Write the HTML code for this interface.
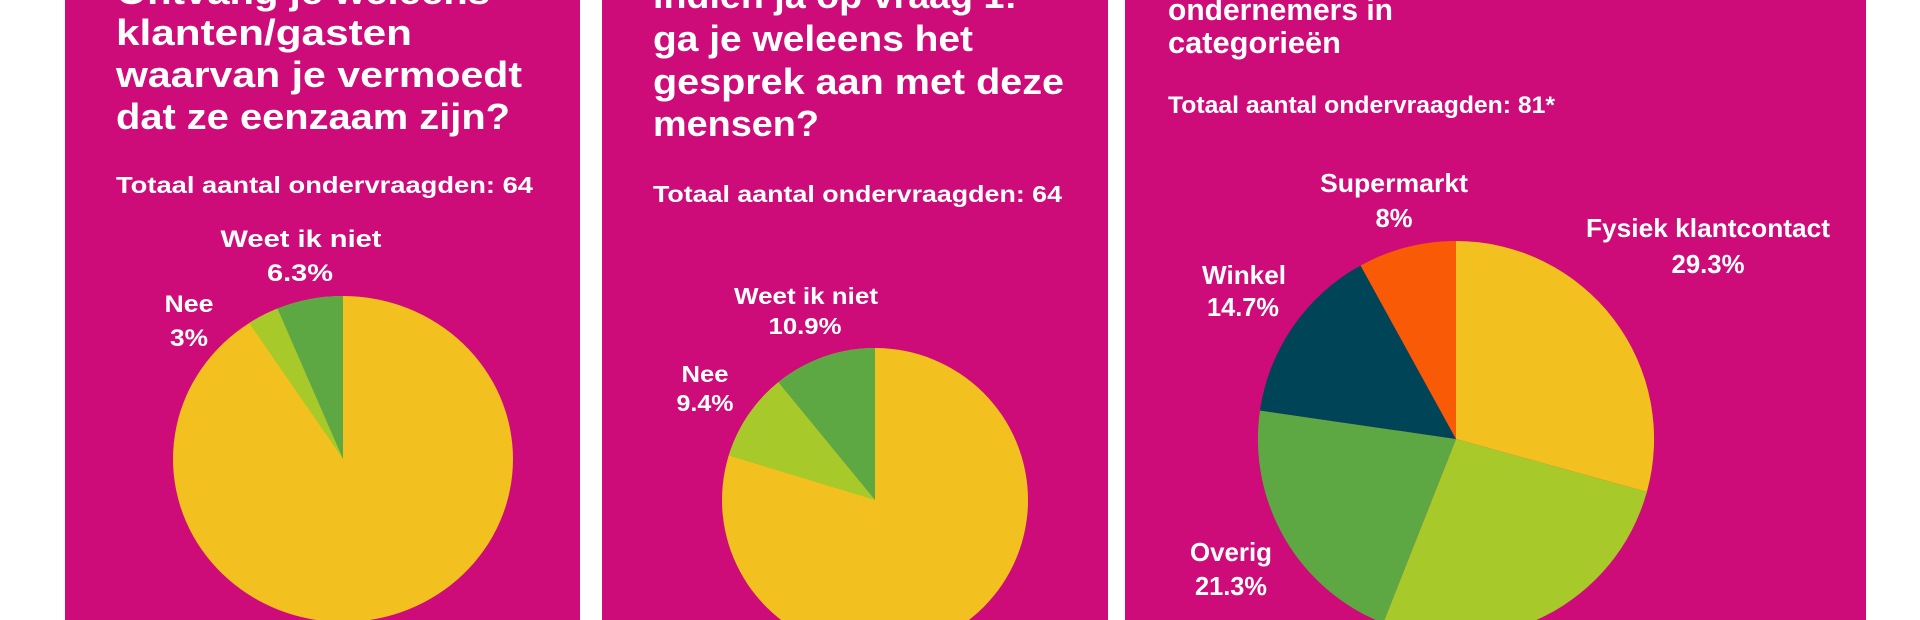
<!DOCTYPE html>
<html><head><meta charset="utf-8"><style>
html,body{margin:0;padding:0;background:#fff;width:1920px;height:620px;overflow:hidden}
svg{display:block;overflow:hidden}
text{fill:#fff;font-family:"Liberation Sans",sans-serif;font-weight:bold}
</style></head><body>
<svg width="1920" height="620" viewBox="0 0 1920 620" xmlns="http://www.w3.org/2000/svg">
<defs><clipPath id="c"><rect x="0" y="0" width="1920" height="620"/></clipPath></defs>
<g clip-path="url(#c)">
<rect x="0" y="0" width="1920" height="620" fill="#fff"/>
<rect x="65" y="0" width="515" height="620" fill="#CD0B79"/>
<rect x="602" y="0" width="506" height="620" fill="#CD0B79"/>
<rect x="1125" y="0" width="741" height="620" fill="#CD0B79"/>

<!-- Panel 1 -->
<g font-size="36">
<text x="116" y="4" textLength="374" lengthAdjust="spacingAndGlyphs">Ontvang je weleens</text>
<text x="116" y="45" textLength="296" lengthAdjust="spacingAndGlyphs">klanten/gasten</text>
<text x="116" y="87" textLength="406" lengthAdjust="spacingAndGlyphs">waarvan je vermoedt</text>
<text x="116" y="129" textLength="394" lengthAdjust="spacingAndGlyphs">dat ze eenzaam zijn?</text>
</g>
<text x="116" y="193" font-size="23" textLength="417" lengthAdjust="spacingAndGlyphs">Totaal aantal ondervraagden: 64</text>
<g transform="translate(343,459) scale(170,163)">
<circle cx="0" cy="0" r="1" fill="#F3C11F"/>
<path d="M0 0 L-0.552 -0.834 A1 1 0 0 1 -0.386 -0.923 Z" fill="#A8C92A"/>
<path d="M0 0 L-0.386 -0.923 A1 1 0 0 1 0 -1 Z" fill="#5DA843"/>
</g>
<g font-size="24" text-anchor="middle">
<text x="301" y="247" textLength="161" lengthAdjust="spacingAndGlyphs">Weet ik niet</text>
<text x="300" y="281" textLength="66" lengthAdjust="spacingAndGlyphs">6.3%</text>
<text x="189" y="312" textLength="49" lengthAdjust="spacingAndGlyphs">Nee</text>
<text x="189" y="346" textLength="38" lengthAdjust="spacingAndGlyphs">3%</text>
</g>

<!-- Panel 2 -->
<g font-size="36">
<text x="653" y="8" textLength="364" lengthAdjust="spacingAndGlyphs">indien ja op vraag 1:</text>
<text x="653" y="51" textLength="320" lengthAdjust="spacingAndGlyphs">ga je weleens het</text>
<text x="653" y="94" textLength="411" lengthAdjust="spacingAndGlyphs">gesprek aan met deze</text>
<text x="653" y="136" textLength="166" lengthAdjust="spacingAndGlyphs">mensen?</text>
</g>
<text x="653" y="202" font-size="23" textLength="409" lengthAdjust="spacingAndGlyphs">Totaal aantal ondervraagden: 64</text>
<g transform="translate(875,500) scale(153,152)">
<circle cx="0" cy="0" r="1" fill="#F3C11F"/>
<path d="M0 0 L-0.956 -0.292 A1 1 0 0 1 -0.632 -0.775 Z" fill="#A8C92A"/>
<path d="M0 0 L-0.632 -0.775 A1 1 0 0 1 0 -1 Z" fill="#5DA843"/>
</g>
<g font-size="23" text-anchor="middle">
<text x="806" y="304" textLength="144" lengthAdjust="spacingAndGlyphs">Weet ik niet</text>
<text x="805" y="334" textLength="73" lengthAdjust="spacingAndGlyphs">10.9%</text>
<text x="705" y="382" textLength="47" lengthAdjust="spacingAndGlyphs">Nee</text>
<text x="705" y="411" textLength="57" lengthAdjust="spacingAndGlyphs">9.4%</text>
</g>

<!-- Panel 3 -->
<g font-size="31">
<text x="1168" y="20" textLength="225" lengthAdjust="spacingAndGlyphs">ondernemers in</text>
<text x="1168" y="53" textLength="173" lengthAdjust="spacingAndGlyphs">categorieën</text>
</g>
<text x="1168" y="113" font-size="24" textLength="387" lengthAdjust="spacingAndGlyphs">Totaal aantal ondervraagden: 81*</text>
<g transform="translate(1456,439) scale(198,198)">
<path d="M0 0 L0 -1 A1 1 0 0 1 0.964 0.267 Z" fill="#F3C11F"/>
<path d="M0 0 L0.964 0.267 A1 1 0 0 1 -0.368 0.930 Z" fill="#A8C92A"/>
<path d="M0 0 L-0.368 0.930 A1 1 0 0 1 -0.990 -0.144 Z" fill="#5DA843"/>
<path d="M0 0 L-0.990 -0.144 A1 1 0 0 1 -0.482 -0.876 Z" fill="#004458"/>
<path d="M0 0 L-0.482 -0.876 A1 1 0 0 1 0 -1 Z" fill="#F85A06"/>
</g>
<g font-size="26" text-anchor="middle">
<text x="1394" y="192" textLength="148" lengthAdjust="spacingAndGlyphs">Supermarkt</text>
<text x="1394" y="227" textLength="37" lengthAdjust="spacingAndGlyphs">8%</text>
<text x="1708" y="237" textLength="244" lengthAdjust="spacingAndGlyphs">Fysiek klantcontact</text>
<text x="1708" y="273" textLength="73" lengthAdjust="spacingAndGlyphs">29.3%</text>
<text x="1244" y="284" textLength="84" lengthAdjust="spacingAndGlyphs">Winkel</text>
<text x="1243" y="316" textLength="72" lengthAdjust="spacingAndGlyphs">14.7%</text>
<text x="1231" y="561" textLength="82" lengthAdjust="spacingAndGlyphs">Overig</text>
<text x="1231" y="595" textLength="72" lengthAdjust="spacingAndGlyphs">21.3%</text>
</g>
</g>
</svg>
</body></html>
